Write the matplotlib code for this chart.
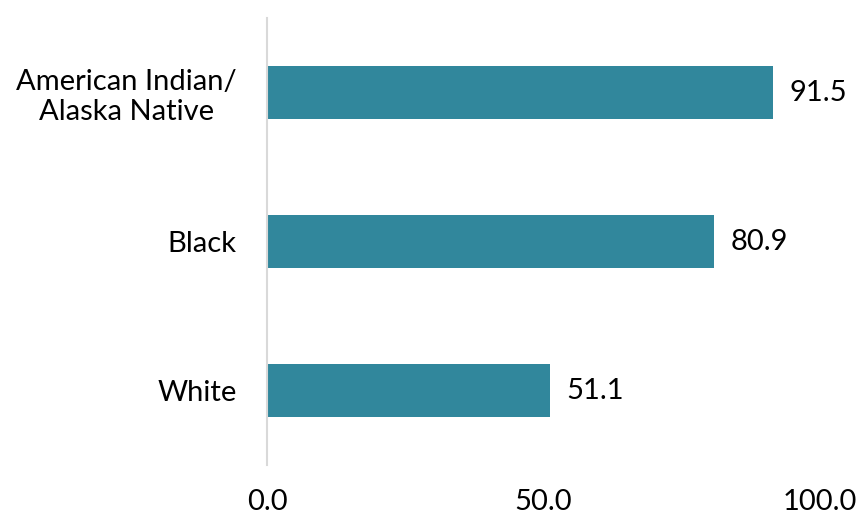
import matplotlib
matplotlib.use("Agg")
import matplotlib.pyplot as plt

categories = ["American Indian/\nAlaska Native", "Black", "White"]
values = [91.5, 80.9, 51.1]
xticks = [0, 50, 100]
xticklabels = ["0.0", "50.0", "100.0"]

plt.rcParams['font.family'] = ['Lato', 'DejaVu Sans']

fig = plt.figure(figsize=(8.59, 5.23), dpi=100)
ax = fig.add_axes([267/859, 1-465/523, (820-267)/859, (465-18)/523])

ypos = list(range(len(categories)))
ax.barh(ypos, values, height=0.35, color="#31879C")
ax.set_ylim(len(categories)-0.5, -0.5)
ax.set_xlim(0, 100)

for y, v in zip(ypos, values):
    ax.text(v + 3.0, y, f"{v:.1f}", va="center", ha="left", fontsize=21, color="black")

ax.set_yticks(ypos)
ax.set_yticklabels(categories, fontsize=21, multialignment="center")
ax.set_xticks(xticks)
ax.set_xticklabels(xticklabels, fontsize=21)
ax.tick_params(axis="both", length=0)
ax.tick_params(axis="y", pad=22)
ax.tick_params(axis="x", pad=17)

for s in ["top", "right", "bottom"]:
    ax.spines[s].set_visible(False)
ax.spines["left"].set_color("#d9d9d9")
ax.spines["left"].set_linewidth(1.5)

fig.savefig("out.png", dpi=100)
